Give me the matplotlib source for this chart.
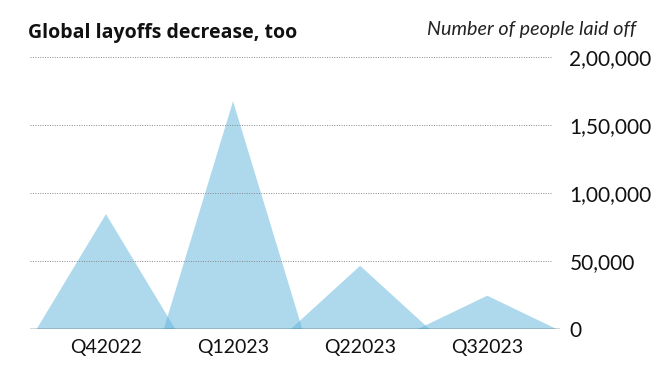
import matplotlib
matplotlib.use("Agg")
import matplotlib.pyplot as plt

# ---------- data ----------
quarters = ["Q42022", "Q12023", "Q22023", "Q32023"]
laid_off = [84500, 167500, 46500, 24500]
y_ticks = [0, 50000, 100000, 150000, 200000]
y_labels = ["0", "50,000", "1,00,000", "1,50,000", "2,00,000"]
# --------------------------

narrow = "Lato"

fig = plt.figure(figsize=(6.6, 3.83), dpi=100)
ax = fig.add_axes([0.045, 0.141, 0.803, 0.71])

# one triangle per quarter, peaking at its value
half = 0.545
for i, v in enumerate(laid_off):
    ax.fill([i - half, i, i + half], [0, v, 0], color="#5fb4dd", alpha=0.5, lw=0)

ax.set_xlim(-0.6, 3.57)
ax.set_ylim(0, 200000)

for t in y_ticks[1:]:
    ax.plot([-0.6, 3.5], [t, t], ls=(0, (1, 1.5)), color="#888888", lw=0.7)
ax.axhline(0, color="#333333", lw=1.0)

ax.yaxis.tick_right()
ax.set_yticks(y_ticks)
ax.set_yticklabels(y_labels, fontsize=15, family=narrow, color="#111111")
ax.set_xticks(range(len(quarters)))
ax.set_xticklabels(quarters, fontsize=14, family=narrow, color="#111111")
ax.tick_params(length=0, pad=7)
for s in ax.spines.values():
    s.set_visible(False)

fig.text(0.042, 0.915, "Global layoffs decrease, too", fontsize=14, fontweight="bold",
         family="Open Sans", color="#111111", va="center")
fig.text(0.964, 0.922, "Number of people laid off", fontsize=14.2, style="italic",
         family=narrow, color="#222222", va="center", ha="right")

fig.savefig("out.png", dpi=100, facecolor="white")
